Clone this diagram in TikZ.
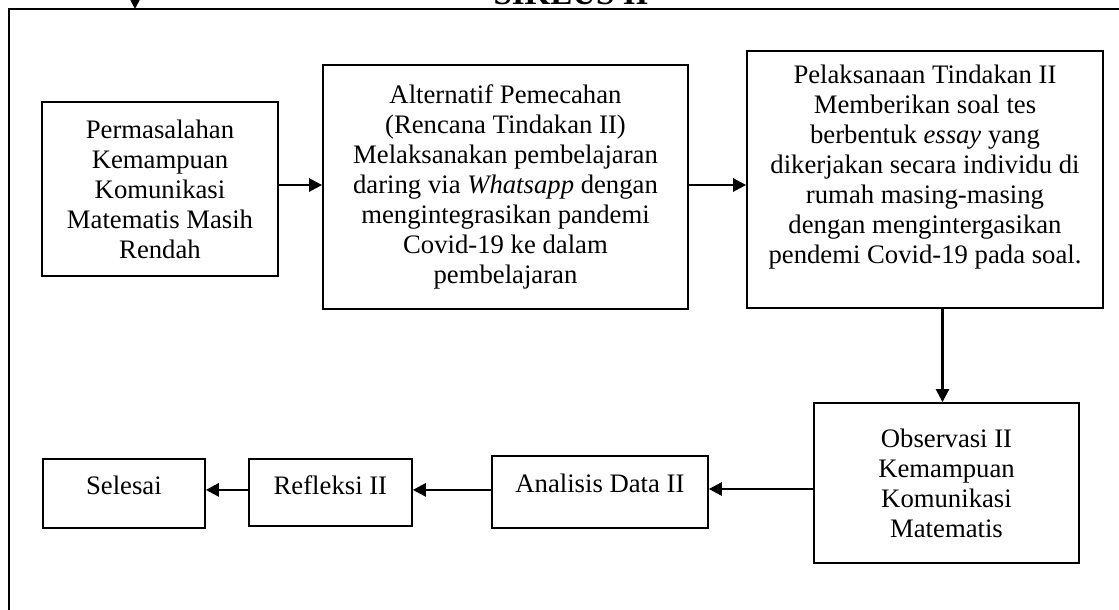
\documentclass[tikz,border=0pt]{standalone}
\usepackage{fontspec}
\setmainfont{Liberation Serif}
\usetikzlibrary{arrows.meta}
\begin{document}
\begin{tikzpicture}[x=1pt,y=-1pt,
  box/.style={draw, line width=1.8pt, align=center, inner sep=0pt,
    font=\fontsize{26.7pt}{30pt}\selectfont},
  sbox/.style={draw, line width=1.8pt, inner xsep=0pt, inner ysep=0pt,
    anchor=north west, font=\fontsize{26.7pt}{30pt}\selectfont},
  arr/.style={line width=2.6pt, -{Triangle[length=13pt,width=13pt]}},
  frame/.style={line width=1.8pt}]
\useasboundingbox (0,0) rectangle (1119,610);
% title and frame
\node[font=\bfseries\fontsize{33pt}{33pt}\selectfont, anchor=base] (title) at (571,5) {SIKLUS II};
\draw[frame] (9,620) -- (9,9) -- (1130,9);
\coordinate (fstart) at (135,-20);
\coordinate (fin) at (135,9);
\draw[arr] (fstart) -- (fin);
% boxes
\node[box, minimum width=236pt, minimum height=174pt] (b1) at (160,189)
  {Permasalahan\\Kemampuan\\Komunikasi\\Matematis Masih\\Rendah};
\node[box, minimum width=365pt, minimum height=244pt] (b2) at (505.5,187)
  {Alternatif Pemecahan\\(Rencana Tindakan II)\\Melaksanakan pembelajaran\\daring via \textit{Whatsapp} dengan\\mengintegrasikan pandemi\\Covid-19 ke dalam\\pembelajaran};
\node[box, minimum width=356pt, minimum height=257pt] (b3) at (925,179.5)
  {Pelaksanaan Tindakan II\\Memberikan soal tes\\berbentuk \textit{essay} yang\\dikerjakan secara individu di\\rumah masing-masing\\dengan mengintergasikan\\pendemi Covid-19 pada soal.\\[-8pt]\strut};
\node[box, minimum width=265pt, minimum height=160pt] (obs) at (946.5,483)
  {Observasi II\\Kemampuan\\Komunikasi\\Matematis};
\node[sbox, minimum width=216pt, text height=37pt, text depth=35pt] (ana) at (491,455) {Analisis Data II};
\node[sbox, minimum width=163pt, text height=36pt, text depth=31pt] (ref) at (248,458) {Refleksi II};
\node[sbox, minimum width=162pt, text height=36pt, text depth=33pt] (sel) at (42,458) {Selesai};
% connectors
\draw[arr] ([yshift=4pt]b1.east) -- ([yshift=4pt]b1.east -| b2.west);
\draw[arr] ([yshift=2pt]b2.east) -- ([yshift=2pt]b2.east -| b3.west);
\draw[arr] ([xshift=-4pt]b3.south -| obs.north) -- ([xshift=-4pt]obs.north);
\draw[arr] ([yshift=-6pt]obs.west) -- ([yshift=-6pt]obs.west -| ana.east);
\draw[arr] ([yshift=2pt]ana.west) -- ([yshift=2pt]ana.west -| ref.east);
\draw[arr] ([yshift=2pt]ana.west -| ref.west) -- ([yshift=2pt]ana.west -| sel.east);
\end{tikzpicture}
\end{document}
